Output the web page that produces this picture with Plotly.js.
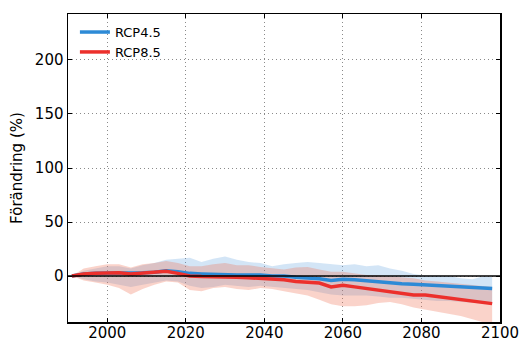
<!DOCTYPE html>
<html>
<head>
<meta charset="utf-8">
<script src="https://cdn.plot.ly/plotly-3.0.1.min.js"></script>
<style>html,body{margin:0;padding:0;background:#fff;}#chart{width:523px;height:343px;}</style>
</head>
<body>
<div id="chart"></div>
<script>
var years = [1991,1994,1997,2000,2003,2006,2009,2012,2015,2018,2021,2024,2027,2030,2033,2036,2039,2042,2045,2048,2051,2054,2057,2060,2063,2066,2069,2072,2075,2078,2081,2084,2087,2090,2093,2096,2098];

var rcp45Mean = [0,2,2.5,2.5,3,2.5,3,3.5,5,4,2.5,2,1.5,1.5,1,1,1,0,0,-1,-1.5,-2.5,-4,-3,-3.5,-4.5,-5.5,-6.5,-7,-7.5,-8,-8.5,-9.5,-10,-10.5,-11,-11.5];
var rcp45High = [0,5,7,9,9,7,10,12,15,16,17,13,16,18,15,13,12,9,11,12,13,12,11,10,11,9,10,7,5,2,0.5,0,0,-2,-3,0,-1];
var rcp45Low  = [0,-3,-5,-6,-8,-10,-8,-6,-4,-5,-9,-11,-10,-8,-9,-10,-9,-10,-11,-12,-13,-15,-17,-18,-18,-18,-19,-20,-20,-21,-22,-23,-23,-24,-25,-26,-26];

var rcp85Mean = [0,2,2.5,2.5,3,2,3,3.5,4.5,2.5,0,-0.5,-0.5,-1,-1,-1.5,-2,-2.5,-3.5,-5,-5.5,-6.5,-10,-8.5,-10,-11.5,-13,-14.5,-16,-17.5,-17.5,-19,-20.5,-21.5,-23,-24.5,-25.5];
var rcp85High = [0,7,9,11,11,8,11,12,14,12,9,9,11,12,10,10,8.5,7,6,8,8.5,6,4,4,2.5,1,0.5,0,-1,-2,-4,-5,-6,-7,-8,-9,-10];
var rcp85Low  = [0,-4,-6,-8,-11,-17,-12,-8,-5,-6,-13,-14,-11,-10,-12,-13,-11,-12,-14,-16,-18,-22,-26,-28,-28,-27,-25,-24,-26,-29,-31,-33,-35,-37,-40,-43,-44];

var seriesNames = ['RCP4.5','RCP8.5'];
var xTicks = [2000,2020,2040,2060,2080,2100];
var yTicks = [0,50,100,150,200];
var yTitle = 'Förändring (%)';

var blue = 'rgb(45,138,214)';
var red = 'rgb(236,48,44)';

var traces = [
  {x: years, y: rcp45High, mode: 'lines', line: {width: 0, color: blue}, showlegend: false, hoverinfo: 'skip'},
  {x: years, y: rcp45Low, mode: 'lines', line: {width: 0, color: blue}, fill: 'tonexty', fillcolor: 'rgba(80,150,220,0.25)', showlegend: false, hoverinfo: 'skip'},
  {x: years, y: rcp85High, mode: 'lines', line: {width: 0, color: red}, showlegend: false, hoverinfo: 'skip'},
  {x: years, y: rcp85Low, mode: 'lines', line: {width: 0, color: red}, fill: 'tonexty', fillcolor: 'rgba(240,110,80,0.3)', showlegend: false, hoverinfo: 'skip'},
  {x: years, y: rcp45Mean, mode: 'lines', name: seriesNames[0], line: {width: 3.5, color: blue}},
  {x: years, y: rcp85Mean, mode: 'lines', name: seriesNames[1], line: {width: 3.5, color: red}}
];

var axisCommon = {
  showline: true, linecolor: '#000', linewidth: 1.5, mirror: 'ticks',
  ticks: 'inside', ticklen: 4, tickwidth: 1, tickcolor: '#000',
  showgrid: true, gridcolor: '#8a8a8a', griddash: '1px,3px', gridwidth: 1,
  zeroline: false,
  tickfont: {family: 'DejaVu Sans', size: 15, color: '#000'}
};

var layout = {
  width: 523, height: 343,
  margin: {l: 68, r: 23, t: 14, b: 20.5},
  paper_bgcolor: '#fff', plot_bgcolor: '#fff',
  font: {family: 'DejaVu Sans', color: '#000'},
  xaxis: Object.assign({}, axisCommon, {range: [1990, 2100], tickvals: xTicks, ticklabelstandoff: -4}),
  yaxis: Object.assign({}, axisCommon, {range: [-42.5, 242.5], tickvals: yTicks,
    title: {text: yTitle, font: {family: 'DejaVu Sans', size: 15, color: '#000'}, standoff: 8}}),
  showlegend: true,
  legend: {x: 0.016, y: 0.99, xanchor: 'left', yanchor: 'top', bgcolor: 'rgba(0,0,0,0)', traceorder: 'normal',
    font: {family: 'DejaVu Sans', size: 13, color: '#000'}, tracegroupgap: 0},
  shapes: [{type: 'line', xref: 'paper', x0: 0, x1: 1, yref: 'y', y0: 0, y1: 0, layer: 'above',
    line: {color: '#000', width: 1.5}}]
};

Plotly.newPlot('chart', traces, layout, {displayModeBar: false, staticPlot: true});
</script>
</body>
</html>
